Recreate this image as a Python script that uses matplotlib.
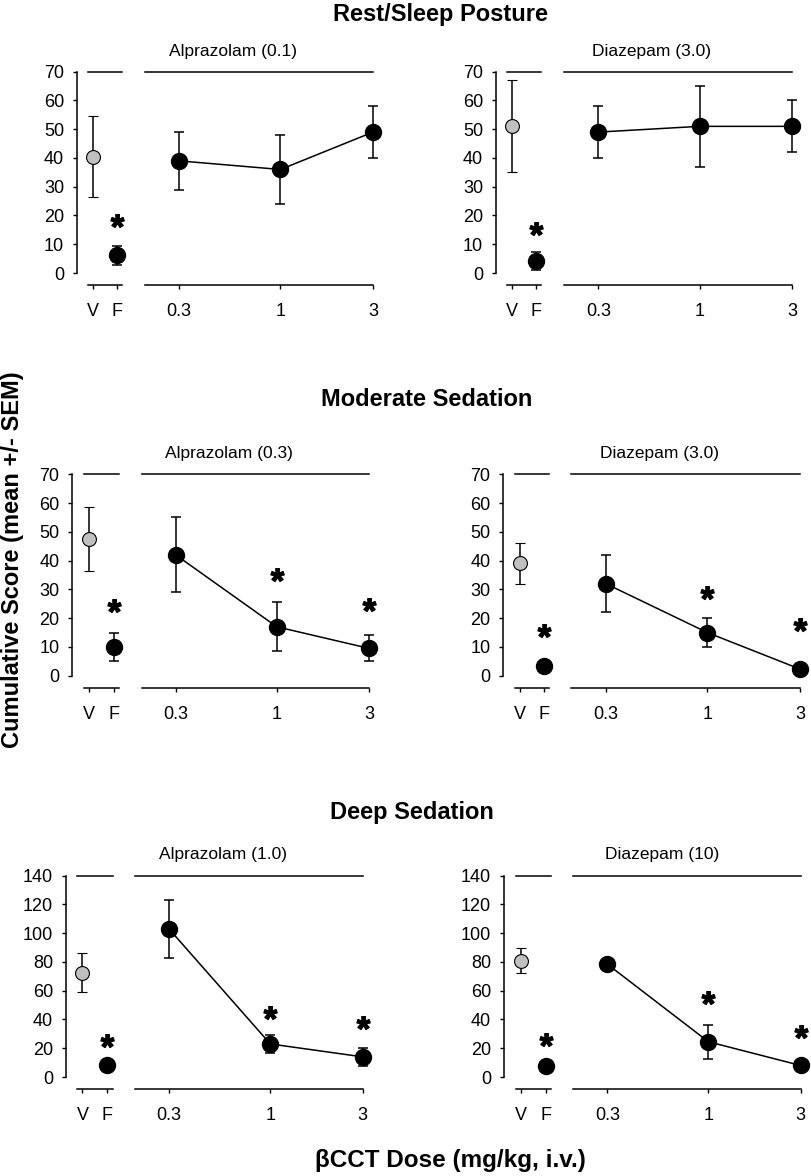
import numpy as np
import matplotlib
matplotlib.use('Agg')
import matplotlib.pyplot as plt
from matplotlib.textpath import TextPath
from matplotlib.font_manager import FontProperties
from matplotlib.path import Path
from matplotlib.ticker import NullLocator

plt.rcParams['font.family'] = ['Liberation Sans', 'DejaVu Sans']

# data
row_titles = ['Rest/Sleep Posture', 'Moderate Sedation', 'Deep Sedation']
drug_labels = [['Alprazolam (0.1)', 'Diazepam (3.0)'],
               ['Alprazolam (0.3)', 'Diazepam (3.0)'],
               ['Alprazolam (1.0)', 'Diazepam (10)']]
doses = [0.3, 1, 3]
dose_ticklabels = ['0.3', '1', '3']
ctrl_ticklabels = ['V', 'F']

veh_mean = [[40.5, 51], [47.5, 39], [72.5, 81]]
veh_sem = [[14, 16], [11, 7], [13.5, 9]]
flu_mean = [[6.1, 4.2], [10, 3.3], [8.2, 7.4]]
flu_sem = [[3.2, 3], [5, 1.5], [2, 2]]
dose_mean = [[[39, 36, 49], [49, 51, 51]],
             [[42, 17, 9.5], [32, 15, 2.3]],
             [[103, 23, 14], [78.5, 24.5, 8]]]
dose_sem = [[[10, 12, 9], [9, 14, 9]],
            [[13, 8.5, 4.5], [10, 5, 1]],
            [[20, 6, 6.3], [2, 12, 2]]]
# asterisk heights (y of the asterisk centre)
star_flu = [[16.3, 13.4], [22.4, 13.7], [21.9, 22.1]]
star_dose = [[[None, None, None], [None, None, None]],
             [[None, 33.4, 23], [None, 27.1, 16]],
             [[None, 40.9, 34.4], [None, 51.4, 28.1]]]
y_max = [70, 70, 140]
y_step = [10, 10, 20]

# layout in pixels: spine x, V x, F x, 0.3 x, 3 x, top y, zero y
W, H = 812, 1176
layout = [
    [(77, 93, 117, 179, 373, 71.7, 273), (496, 512, 536, 598.3, 792.3, 71.7, 273)],
    [(72.3, 89, 113.7, 175.7, 369, 474.3, 675.7), (503.3, 520, 544, 605.7, 800, 474.3, 675.7)],
    [(65.7, 82.5, 107, 169, 362.7, 875.7, 1077), (504, 521.3, 545.7, 607.3, 800.7, 875.7, 1077)],
]
drug_pos = [[(233, 51.7), (652, 51.7)], [(229, 454), (660, 454)], [(223, 855), (662, 855)]]
title_pos = [(441, 14), (427, 400), (412, 812)]

fig = plt.figure(figsize=(W / 100, H / 100), dpi=100)


def fx(px):
    return px / W


def fy(py):
    return 1 - py / H


# asterisk marker from the bold font glyph, centred on its ink
tp = TextPath((0, 0), '*', prop=FontProperties(family='Liberation Sans', weight='bold'))
v = tp.vertices
ctr = (v.min(axis=0) + v.max(axis=0)) / 2
star = Path(v - ctr, tp.codes)

gray = '#c0c0c0'
ms_big = 11.5
ms_gray = 10
ms_star = 17
tick_kw = dict(direction='out', length=3.2, width=1.0, labelsize=13)


def no_clip(cont):
    for a in cont.get_children():
        a.set_clip_on(False)


for r in range(3):
    for c in range(2):
        spine, vx, fxp, x03, x3, yt, yz = layout[r][c]
        ymax = y_max[r]
        u = fxp - vx
        right_px = fxp + 5.5

        # vehicle / flumazenil part
        ax = fig.add_axes([fx(spine), fy(yz), fx(right_px) - fx(spine), (yz - yt) / H])
        ax.set_xlim((spine - vx) / u, (right_px - vx) / u)
        ax.set_ylim(0, ymax)
        ax.spines['right'].set_visible(False)
        ax.spines['top'].set_bounds(-5 / u, (right_px - vx) / u)
        ax.spines['bottom'].set_bounds(-5 / u, (right_px - vx) / u)
        ax.spines['bottom'].set_position(('outward', 8.7))
        ax.spines['left'].set_bounds(0, ymax)
        for s in ax.spines.values():
            s.set_linewidth(1.1)
        ax.set_xticks([0, 1])
        ax.set_xticklabels(ctrl_ticklabels)
        ax.set_yticks(np.arange(0, ymax + 1, y_step[r]))
        ax.tick_params(axis='x', pad=10, **tick_kw)
        ax.tick_params(axis='y', pad=6, **tick_kw)

        e = ax.errorbar(0, veh_mean[r][c], yerr=veh_sem[r][c], fmt='o', color='k',
                        mfc=gray, mec='k', mew=0.8, ms=ms_gray, capsize=3.5,
                        elinewidth=1.1, capthick=1.1, zorder=3)
        no_clip(e)
        e = ax.errorbar(1, flu_mean[r][c], yerr=flu_sem[r][c], fmt='o', color='k',
                        ms=ms_big, capsize=3.5, elinewidth=1.1, capthick=1.1, zorder=3)
        no_clip(e)
        ax.plot(1, star_flu[r][c], marker=star, ms=ms_star, color='k', ls='none', clip_on=False)

        # dose part
        D = x3 - x03
        left_px = x03 - D * np.log10(0.3 / 0.2)
        ax2 = fig.add_axes([fx(left_px), fy(yz), fx(x3) - fx(left_px), (yz - yt) / H])
        ax2.set_xscale('log')
        ax2.set_xlim(0.2, 3)
        ax2.set_ylim(0, ymax)
        ax2.spines['left'].set_visible(False)
        ax2.spines['right'].set_visible(False)
        ax2.spines['bottom'].set_position(('outward', 8.7))
        for s in ax2.spines.values():
            s.set_linewidth(1.1)
        ax2.set_yticks([])
        ax2.set_xticks(doses)
        ax2.set_xticklabels(dose_ticklabels)
        ax2.xaxis.set_minor_locator(NullLocator())
        ax2.tick_params(axis='x', pad=10, **tick_kw)
        ax2.patch.set_visible(False)

        e = ax2.errorbar(doses, dose_mean[r][c], yerr=dose_sem[r][c], fmt='-o', color='k',
                         lw=1.1, ms=ms_big, capsize=3.5, elinewidth=1.1, capthick=1.1, zorder=3)
        no_clip(e)
        for d, sy in zip(doses, star_dose[r][c]):
            if sy is not None:
                ax2.plot(d, sy, marker=star, ms=ms_star, color='k', ls='none', clip_on=False)

        dx, dy = drug_pos[r][c]
        fig.text(fx(dx), fy(dy), drug_labels[r][c], ha='center', va='center', fontsize=12.5)

    tx, ty = title_pos[r]
    fig.text(fx(tx), fy(ty), row_titles[r], ha='center', va='center',
             fontsize=17, fontweight='bold')

fig.text(fx(13), fy(560), 'Cumulative Score (mean +/- SEM)', rotation=90,
         ha='center', va='center', fontsize=17, fontweight='bold')
fig.text(fx(450), fy(1160), '\u03b2CCT Dose (mg/kg, i.v.)', ha='center', va='center',
         fontsize=17.5, fontweight='bold')

fig.savefig('out.png', dpi=100)
